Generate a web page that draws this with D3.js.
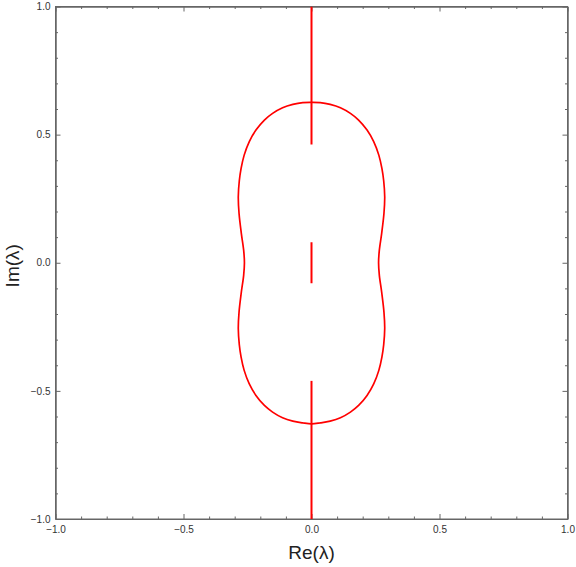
<!DOCTYPE html>
<html>
<head>
<meta charset="utf-8">
<script src="https://cdn.jsdelivr.net/npm/d3@7"></script>
<style>
  body { margin: 0; background: #fff; }
  svg text { font-family: "Liberation Sans", Arial, sans-serif; }
</style>
</head>
<body>
<div id="chart"></div>
<script>
// closed contour (Re, Im), going round from the top
var contourRe = [0, -0.034, -0.073, -0.113, -0.152, -0.184, -0.217, -0.243, -0.263, -0.275, -0.282, -0.286, -0.283, -0.274, -0.265, -0.262,
                 -0.265, -0.274, -0.283, -0.286, -0.282, -0.275, -0.263, -0.243, -0.217, -0.184, -0.152, -0.113, -0.073, -0.034,
                 0, 0.034, 0.073, 0.113, 0.152, 0.184, 0.217, 0.243, 0.263, 0.275, 0.282, 0.286, 0.283, 0.274, 0.265, 0.262,
                 0.265, 0.274, 0.283, 0.286, 0.282, 0.275, 0.263, 0.243, 0.217, 0.184, 0.152, 0.113, 0.073, 0.034];
var contourIm = [0.626, 0.625, 0.618, 0.605, 0.583, 0.557, 0.518, 0.473, 0.420, 0.368, 0.320, 0.257, 0.192, 0.114, 0.049, 0,
                 -0.049, -0.114, -0.192, -0.257, -0.320, -0.368, -0.420, -0.473, -0.518, -0.557, -0.583, -0.605, -0.618, -0.625,
                 -0.629, -0.625, -0.618, -0.605, -0.583, -0.557, -0.518, -0.473, -0.420, -0.368, -0.320, -0.257, -0.192, -0.114, -0.049, 0,
                 0.049, 0.114, 0.192, 0.257, 0.320, 0.368, 0.420, 0.473, 0.518, 0.557, 0.583, 0.605, 0.618, 0.625];

// vertical pieces on the imaginary axis: re, im from, im to
var segRe   = [0, 0, 0];
var segFrom = [1, 0.08, -0.461];
var segTo   = [0.461, -0.08, -1];

var majorTicks = [-1, -0.5, 0, 0.5, 1];
var tickLabels = ["\u22121.0", "\u22120.5", "0.0", "0.5", "1.0"];
var minorTicks = [-0.9, -0.8, -0.7, -0.6, -0.4, -0.3, -0.2, -0.1, 0.1, 0.2, 0.3, 0.4, 0.6, 0.7, 0.8, 0.9];

var w = 576, h = 567;
var padL = 55.5, padR = 567.5, padT = 6.5, padB = 519;

var xscale = d3.scaleLinear().domain([-1, 1]).range([padL, padR]);
var yscale = d3.scaleLinear().domain([-1, 1]).range([padB, padT]);

var svg = d3.select("#chart").append("svg")
            .attr("width", w)
            .attr("height", h);

svg.append("clipPath").attr("id", "clip")
   .append("rect")
   .attr("x", padL).attr("y", padT)
   .attr("width", padR - padL).attr("height", padB - padT);

var frameColor = "#666";

// ticks on all four sides, pointing inward
function addAxis(axisFn, scale, transform, withLabels) {
    var major = axisFn(scale).tickValues(majorTicks).tickSizeInner(-5).tickSizeOuter(0)
                .tickFormat(function(d, i) { return withLabels ? tickLabels[i] : ""; })
                .tickPadding(8);
    var minor = axisFn(scale).tickValues(minorTicks).tickSizeInner(-2.5).tickSizeOuter(0)
                .tickFormat("");
    var g = svg.append("g").attr("transform", transform).call(major);
    svg.append("g").attr("transform", transform).call(minor);
    return g;
}

var xb = addAxis(d3.axisBottom, xscale, "translate(0," + padB + ")", true);
addAxis(d3.axisTop, xscale, "translate(0," + padT + ")", false);
var yl = addAxis(d3.axisLeft, yscale, "translate(" + padL + ",0)", true);
addAxis(d3.axisRight, yscale, "translate(" + padR + ",0)", false);

svg.selectAll(".domain").attr("stroke", frameColor);
svg.selectAll(".tick line").attr("stroke", frameColor);
svg.selectAll(".tick text").attr("fill", "#333").style("font-size", "10px");
xb.selectAll(".tick text").attr("dy", "0.6em");
yl.selectAll(".tick text").attr("dx", "3px");

// frame as a rect for crisp corners
svg.append("rect")
   .attr("x", padL).attr("y", padT)
   .attr("width", padR - padL).attr("height", padB - padT)
   .attr("fill", "none").attr("stroke", frameColor).attr("stroke-width", 1);

var plot = svg.append("g").attr("clip-path", "url(#clip)");

var pts = contourRe.map(function(r, i) { return [r, contourIm[i]]; });
var line = d3.line()
             .x(function(d) { return xscale(d[0]); })
             .y(function(d) { return yscale(d[1]); })
             .curve(d3.curveCatmullRomClosed.alpha(0.5));

plot.append("path")
    .attr("d", line(pts))
    .attr("fill", "none")
    .attr("stroke", "#ff0000")
    .attr("stroke-width", 1.7);

plot.selectAll("line.seg")
    .data(segRe)
    .enter()
    .append("line")
    .attr("class", "seg")
    .attr("x1", function(d) { return xscale(d); })
    .attr("x2", function(d) { return xscale(d); })
    .attr("y1", function(d, i) { return yscale(segFrom[i]); })
    .attr("y2", function(d, i) { return yscale(segTo[i]); })
    .attr("stroke", "#ff0000")
    .attr("stroke-width", 2);

// axis titles
svg.append("text")
   .attr("x", (padL + padR) / 2)
   .attr("y", 559)
   .attr("text-anchor", "middle")
   .style("font-size", "19px")
   .attr("fill", "#222")
   .text("Re(\u03bb)");

svg.append("text")
   .attr("transform", "translate(18.5," + ((padT + padB) / 2 + 3) + ") rotate(-90)")
   .attr("text-anchor", "middle")
   .style("font-size", "19px")
   .attr("fill", "#222")
   .text("Im(\u03bb)");
</script>
</body>
</html>
